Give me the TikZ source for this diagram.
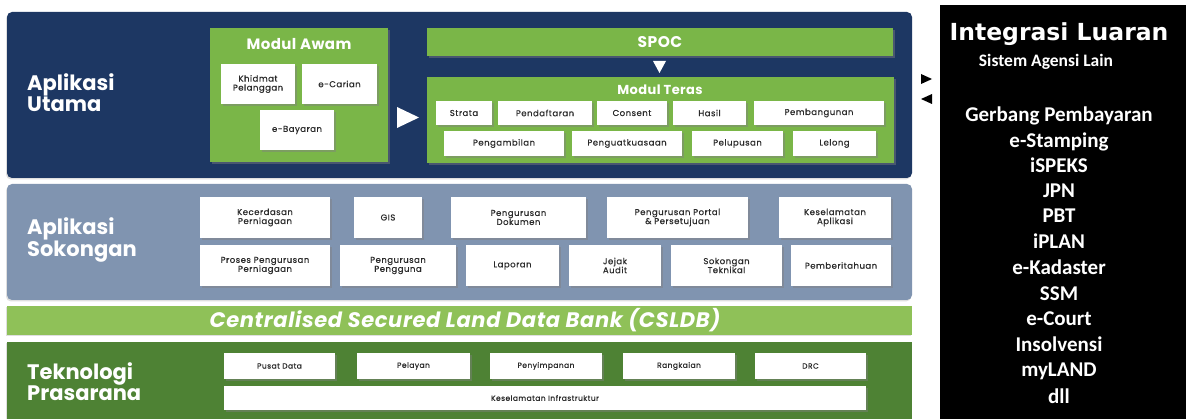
\documentclass[tikz,border=0pt]{standalone}
\usepackage{fontspec}
\setmainfont{Poppins}
\newfontfamily\carl{Carlito}
\newfontfamily\dvs{DejaVu Sans}
\newfontfamily\popw[LetterSpace=6,FakeBold=0.5]{Poppins}
\newfontfamily\popt[LetterSpace=3]{Poppins}
\usetikzlibrary{shadows}
\definecolor{navy}{HTML}{1D3763}
\definecolor{slate}{HTML}{8094B0}
\definecolor{grn}{HTML}{7AB648}
\definecolor{lgrn}{HTML}{8FC158}
\definecolor{dgrn}{HTML}{4E8234}
\definecolor{txt}{HTML}{2A2A2A}
\tikzset{
  panel/.style={rounded corners=5pt, inner sep=0pt, drop shadow={shadow xshift=-1pt,shadow yshift=-1.5pt,opacity=.25}},
  gbox/.style={fill=grn, inner sep=0pt, drop shadow={shadow xshift=1.5pt,shadow yshift=-2pt,opacity=.45}},
  wbox/.style={fill=white, inner sep=1pt, align=center, text=txt,
    font=\popw\fontsize{8.5}{9}\selectfont,
    drop shadow={shadow xshift=1.5pt,shadow yshift=-2.5pt,opacity=.45}},
  tbox/.style={wbox, font=\popw\fontsize{7.5}{8}\selectfont},
  lbl/.style={text=white, align=left, anchor=west, inner sep=0pt,
    font=\fontsize{21}{21}\selectfont\bfseries},
  ttl/.style={text=white, inner sep=0pt, font=\popt\fontsize{13}{13}\selectfont\bfseries},
  rtxt/.style={text=white, inner sep=0pt, text height=14pt, text depth=4pt,
    font=\carl\bfseries\fontsize{21}{21}\selectfont},
}
\newcommand\bx[7][wbox]{\node[#1, minimum width={#5-#3}, minimum height={#6-#4}] (#2) at ({(#3+#5)/2},{(#4+#6)/2}) {#7};}
\begin{document}
\begin{tikzpicture}[x=1pt,y=-1pt]
\useasboundingbox[fill=white] (0,0) rectangle (1186,419);
% panels
\bx[panel, fill=navy]{utama}{7}{12}{912}{178}{}
\bx[panel, fill=slate]{sokong}{7}{184}{912}{300}{}
\bx[panel, rounded corners=0pt, fill=lgrn]{cs}{7}{306}{912}{335}{}
\bx[panel, rounded corners=0pt, fill=dgrn]{tek}{7}{342}{912}{425}{}
\node[text=white, font=\popt\fontsize{21}{20}\selectfont\bfseries\itshape] (cstxt) at (465,320.5) {Centralised Secured Land Data Bank (CSLDB)};
% labels
\node[lbl] (lu) at (27,93) {Aplikasi\\Utama};
\node[lbl] (ls) at (27,240) {Aplikasi\\Sokongan};
\node[lbl] (lt) at (27,382) {Teknologi\\Prasarana};
% Modul Awam
\bx[gbox]{awam}{210}{28}{388}{162}{}
\node[ttl, font=\popt\fontsize{15}{15}\selectfont\bfseries] (awamt) at (299,44) {Modul Awam};
\bx{kp}{221}{64}{295}{104}{Khidmat\\Pelanggan}
\bx{ec}{302}{64}{377}{104}{e-Carian}
\bx{eb}{260}{110}{334}{150}{e-Bayaran}
\fill[white] (397,107) -- (419,117.5) -- (397,128) -- cycle;
% SPOC and Modul Teras
\bx[gbox]{spoc}{427}{28}{893}{56}{}
\node[ttl, font=\popt\fontsize{15.5}{15}\selectfont\bfseries] at (spoc.center) {SPOC};
\fill[white] (653,61) -- (666,61) -- (659.5,73) -- cycle;
\bx[gbox]{teras}{427}{77}{894}{163}{}
\node[ttl] (terast) at (660,90) {Modul Teras};
\bx{strata}{436}{101}{492}{125}{Strata}
\bx{pend}{498}{101}{592}{125}{Pendaftaran}
\bx{cons}{597}{101}{667}{125}{Consent}
\bx{hasil}{673}{101}{746}{125}{Hasil}
\bx{pemb}{754}{101}{884}{125}{Pembangunan}
\bx{peng}{444}{131}{564}{156}{Pengambilan}
\bx{pengk}{572}{131}{682}{156}{Penguatkuasaan}
\bx{pelu}{692}{131}{783}{156}{Pelupusan}
\bx{lel}{793}{131}{876}{156}{Lelong}
% Sokongan
\bx{kec}{200}{197}{330}{238}{Kecerdasan\\Perniagaan}
\bx{gis}{354}{197}{422}{238}{GIS}
\bx{pdok}{451}{197}{586}{238}{Pengurusan\\Dokumen}
\bx{pport}{607}{197}{748}{238}{Pengurusan Portal\\\& Persetujuan}
\bx{kap}{779}{197}{891}{238}{Keselamatan\\Aplikasi}
\bx{ppp}{200}{245}{330}{286}{Proses Pengurusan\\Perniagaan}
\bx{ppg}{340}{245}{456}{286}{Pengurusan\\Pengguna}
\bx{lap}{466}{245}{559}{286}{Laporan}
\bx{jej}{569}{245}{661}{286}{Jejak\\Audit}
\bx{sok}{671}{245}{782}{286}{Sokongan\\Teknikal}
\bx{pemt}{791}{245}{891}{286}{Pemberitahuan}
% Teknologi
\bx[tbox]{pd}{224}{353}{335}{379}{Pusat Data}
\bx[tbox]{pel}{357}{353}{470}{379}{Pelayan}
\bx[tbox]{peny}{490}{353}{602}{379}{Penyimpanan}
\bx[tbox]{rang}{623}{353}{735}{379}{Rangkaian}
\bx[tbox]{drc}{755}{353}{866}{379}{DRC}
\bx[tbox]{ki}{224}{386}{866}{410}{Keselamatan Infrastruktur}
% arrows to external
\fill[black] (921,74) -- (932,79) -- (921,84) -- cycle;
\fill[black] (932,94) -- (921,99) -- (932,104) -- cycle;
% Integrasi Luaran
\bx[inner sep=0pt, fill=black]{ext}{940}{5}{1186}{425}{}
\node[text=white, font=\dvs\bfseries\fontsize{23.5}{24}\selectfont] (extt) at (1059,34) {Integrasi Luaran};
\node[text=white, font=\carl\bfseries\fontsize{17.5}{18}\selectfont] (exts) at (1046,62) {Sistem Agensi Lain};
\node[rtxt] (e1) at (1059,117) {Gerbang Pembayaran};
\node[rtxt] (e2) at (1059,143) {e-Stamping};
\node[rtxt] (e3) at (1059,168) {iSPEKS};
\node[rtxt] (e4) at (1059,193) {JPN};
\node[rtxt] (e5) at (1059,218) {PBT};
\node[rtxt] (e6) at (1059,244) {iPLAN};
\node[rtxt] (e7) at (1059,270) {e-Kadaster};
\node[rtxt] (e8) at (1059,296) {SSM};
\node[rtxt] (e9) at (1059,321) {e-Court};
\node[rtxt] (e10) at (1059,347) {Insolvensi};
\node[rtxt] (e11) at (1059,372) {myLAND};
\node[rtxt] (e12) at (1059,398) {dll};
\end{tikzpicture}
\end{document}
